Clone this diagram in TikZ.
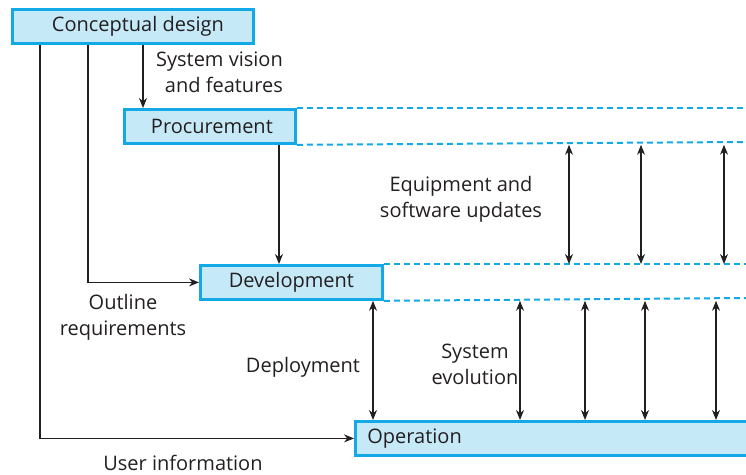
\documentclass[tikz,border=0pt]{standalone}
\usepackage{fontspec}
\setmainfont{Open Sans}
\usetikzlibrary{arrows.meta}
\definecolor{boxfill}{HTML}{C6E9F8}
\definecolor{boxline}{HTML}{12A9E6}
\definecolor{ink}{HTML}{231F20}
\begin{document}
\begin{tikzpicture}[x=1pt,y=-1pt,
  phase/.style={draw=boxline, line width=2.8pt, fill=boxfill, inner sep=0pt, minimum height=34pt, anchor=north west, font=\fontsize{20}{24}\selectfont, text=ink},
  lbl/.style={font=\fontsize{20}{26}\selectfont, align=center, text=ink, inner sep=0pt},
  flow/.style={-{Stealth[length=10pt,width=8pt]}, line width=1.2pt, draw=ink},
  both/.style={{Stealth[length=10pt,width=8pt]}-{Stealth[length=10pt,width=8pt]}, line width=1.2pt, draw=ink},
  lane/.style={draw=boxline, line width=2pt, dash pattern=on 6pt off 4pt}]
\useasboundingbox (0,0) rectangle (746,474);
% phases
\node[phase, minimum width=241pt, inner xsep=0pt, xshift=0pt] (cd) at (11,8) {\hspace*{10pt}Conceptual design};
\node[phase, minimum width=171pt] (pr) at (123,108) {\hspace*{4pt}Procurement};
\node[phase, minimum width=182pt] (dv) at (199,264) {Development};
\node[phase, minimum width=420pt, inner xsep=12pt, text width=396pt, align=left] (op) at (354,420) {Operation};
% lanes
\coordinate (e1) at (746,108);
\coordinate (e2) at (746,142);
\coordinate (e3) at (746,264);
\coordinate (e4) at (746,298);
\draw[lane] (pr.north east) -- (e1);
\draw[lane] (pr.south east) -- (e2);
\draw[lane] (dv.north east) -- (e3);
\draw[lane] (dv.south east) -- (e4);
% columns
\coordinate (k1) at (40,0);
\coordinate (k2) at (88,0);
\coordinate (k3) at (143,0);
\coordinate (k4) at (279,0);
\coordinate (k5) at (373,0);
% flows
\draw[flow] (cd.south -| k3) -- (pr.north -| k3);
\draw[flow] (cd.south -| k2) |- (dv.west);
\draw[flow] (cd.south -| k1) |- (op.west);
\draw[flow] (pr.south -| k4) -- (dv.north -| k4);
\draw[both] (dv.south -| k5) -- (op.north -| k5);
% updates
\foreach \x in {569,641,724}{
  \coordinate (u\x) at (\x,0);
  \draw[both] (pr.south -| u\x) -- (dv.north -| u\x);
}
\foreach \x in {520,585,645,716}{
  \coordinate (v\x) at (\x,0);
  \draw[both] (dv.south -| v\x) -- (op.north -| v\x);
}
% labels
\node[lbl, align=right, anchor=east] (l1) at (283,72) {System vision\\and features};
\node[lbl] (l2) at (461,199) {Equipment and\\software updates};
\node[lbl] (l3) at (123,317) {Outline\\requirements};
\node[lbl] (l4) at (303,367) {Deployment};
\node[lbl] (l5) at (475,364) {System\\evolution};
\node[lbl] (l6) at (183,463) {User information};
\end{tikzpicture}
\end{document}
